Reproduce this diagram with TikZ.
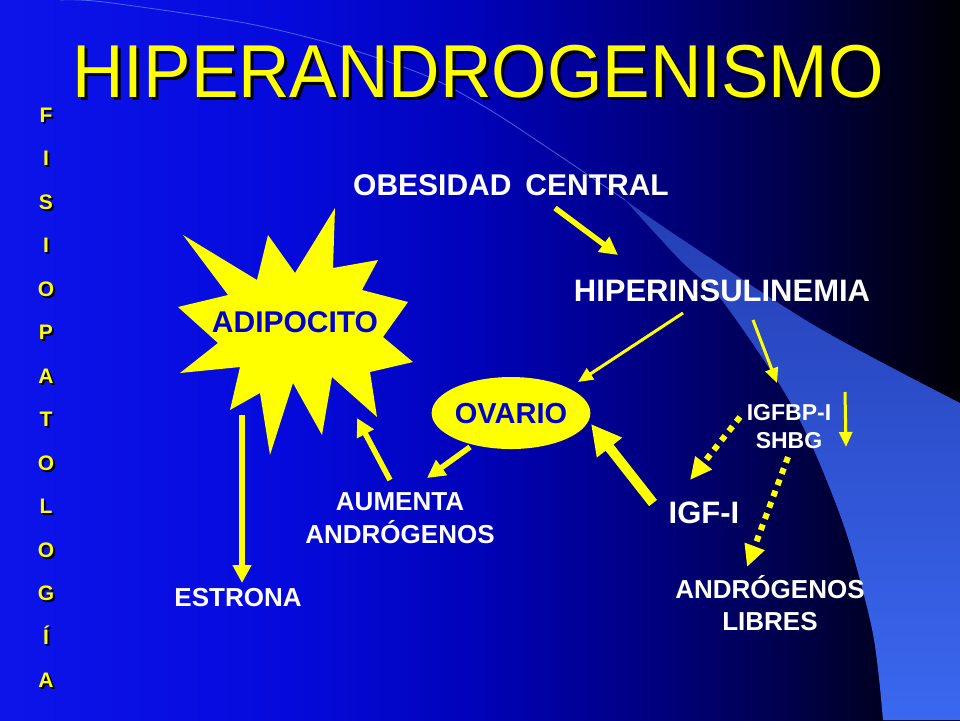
\documentclass[tikz,border=0pt]{standalone}
\usepackage{fontspec}
\setmainfont{Liberation Sans}
\newfontfamily\titulofont[FakeStretch=0.95]{Liberation Sans}
\usetikzlibrary{arrows.meta}
\usetikzlibrary{shapes.geometric}
\usetikzlibrary{calc}

\definecolor{amarillo}{RGB}{255,255,0}
\definecolor{azultexto}{RGB}{0,0,204}
\definecolor{franja}{RGB}{58,104,240}
\definecolor{franjaoscura}{RGB}{36,62,180}
\definecolor{linea}{RGB}{120,160,255}

\pgfdeclarehorizontalshading{fondo}{100bp}{
  rgb(0bp)=(0.05,0.08,0.92);
  rgb(25bp)=(0.05,0.08,0.92);
  rgb(40bp)=(0.02,0.04,0.86);
  rgb(50bp)=(0,0.01,0.72);
  rgb(59bp)=(0,0,0.5);
  rgb(66.5bp)=(0,0,0.28);
  rgb(72bp)=(0,0,0.1);
  rgb(75bp)=(0,0,0.02);
  rgb(100bp)=(0,0,0.02)}

\tikzset{
  texto/.style 2 args={inner sep=0pt, anchor=base, text=white, align=center,
    font=\bfseries\fontsize{#1}{#2}\selectfont},
  letra/.style={inner sep=0pt, anchor=base, font=\bfseries\fontsize{21}{21}\selectfont},
  titulo/.style={inner sep=0pt, anchor=base, font=\titulofont\fontsize{75}{75}\selectfont},
  flecha/.style={amarillo, line width=5.5pt, -{Triangle[length=18pt,width=18pt]}},
  flechafina/.style={amarillo, line width=3pt, -{Triangle[length=15pt,width=13pt]}},
  flechagruesa/.style={amarillo, line width=10pt, -{Triangle[length=30pt,width=30pt]}},
  flechapunteada/.style={amarillo, line width=6pt, dash pattern=on 6pt off 6pt,
    -{Triangle[length=22pt,width=20pt]}}
}

\begin{document}
\begin{tikzpicture}[x=1pt,y=-1pt]
		\useasboundingbox (0,0) rectangle (960,720);
		\shade[shading=fondo] (0,0) rectangle (960,720);
		% franja clara de la derecha
		\shade[top color=franjaoscura, middle color=franja, bottom color=franja]
			plot[smooth] coordinates {(625,200) (680,238) (817,327) (960,403)}
			-- (960,720)
			-- plot[smooth] coordinates {(883,720) (873,634) (847,535) (813,448) (780,385) (720,298) (680,260) (625,200)}
			-- cycle;
		\draw[linea, line width=0.8pt, opacity=0.6] plot[smooth] coordinates {(60,0) (104,2) (245,23) (343,47) (429,77) (490,110) (551,150) (625,200)};
		% titulo
		\node[titulo, text=black] (titulosombra) at (481,100) {HIPERANDROGENISMO};
		\node[titulo, text=amarillo] (titulo) at (478,97) {HIPERANDROGENISMO};
		\foreach \l [count=\i] in {F,I,S,I,O,P,A,T,O,L,O,G,Í,A} {
			\node[letra, text=black] (sombra\i) at (48,122+43.5*\i-41.5) {\l};
			\node[letra, text=amarillo] (letra\i) at (46,122+43.5*\i-43.5) {\l};
		}
		% adipocito
		\fill[amarillo] (183,235) -- (257,280) -- (268,235) -- (295,273) -- (335,208)
			-- (333,268) -- (378,260) -- (362,290) -- (408,302) -- (383,337)
			-- (413,362) -- (370,372) -- (377,417) -- (332,377) -- (322,435)
			-- (293,383) -- (270,455) -- (260,393) -- (230,410) -- (240,367)
			-- (180,373) -- (218,343) -- (178,307) -- (228,295) -- cycle;
		\node[texto={30}{36}, text=azultexto] (adipocito) at (295,332) {ADIPOCITO};
		\node[ellipse, fill=amarillo, minimum width=128pt, minimum height=72pt,
			inner sep=0pt, anchor=base, text=azultexto,
			font=\bfseries\fontsize{29}{29}\selectfont] (ovario) at (511,423) {OVARIO};
		% textos
		\node[texto={30}{36}] (obesidad) at (511,195) {OBESIDAD\hspace{14pt}CENTRAL};
		\node[texto={31}{36}] (hiper) at (722,301) {HIPERINSULINEMIA};
		\node[texto={23}{28}] (igfbp) at (789,448) {IGFBP-I\\SHBG};
		\node[texto={31}{36}] (igf) at (704,523) {IGF-I};
		\node[texto={26}{32}] (libres) at (770,630) {ANDRÓGENOS\\LIBRES};
		\node[texto={26}{33}] (aumenta) at (400,543) {AUMENTA\\ANDRÓGENOS};
		\node[texto={26}{32}] (estrona) at (238,606) {ESTRONA};
		% flechas
		\draw[flecha] ($(obesidad.base)+(44,13)$) -- ($(hiper.base)+(-104,-46)$);
		\draw[flechafina] ($(hiper.base)+(-39,12)$) -- ($(ovario.base)+(67,-41)$);
		\draw[flechafina] ($(hiper.base)+(31,19)$) -- ($(igfbp.base)+(-12,-65)$);
		\draw[flechafina] ($(igfbp.base)+(56,-56)$) -- ($(igfbp.base)+(57,-1)$);
		\draw[flechapunteada] ($(igfbp.base)+(-49,-31)$) -- ($(igf.base)+(-14,-43)$);
		\draw[flechapunteada] ($(igfbp.base)+(-1,9)$) -- ($(libres.base)+(-23,-63)$);
		\draw[flechagruesa] ($(igf.base)+(-51,-20)$) -- ($(ovario.base)+(80,1)$);
		\draw[flecha] ($(ovario.base)+(-41,24)$) -- ($(aumenta.base)+(27,-65)$);
		\draw[flecha] ($(aumenta.base)+(-10,-63)$) -- ($(adipocito.base)+(62,86)$);
		\draw[flecha] ($(adipocito.base)+(-53,83)$) -- ($(estrona.base)+(4,-23)$);
\end{tikzpicture}
\end{document}
